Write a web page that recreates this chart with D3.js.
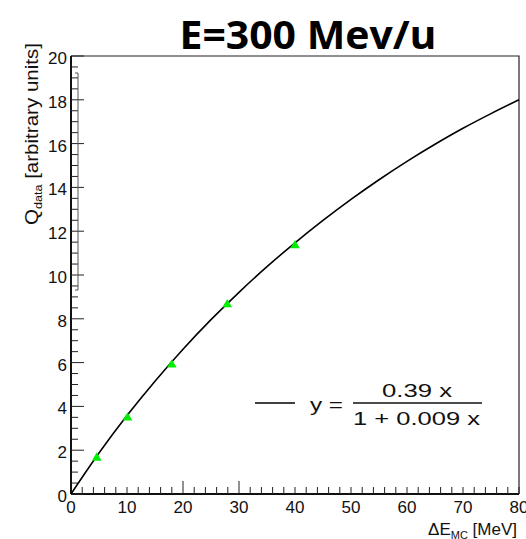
<!DOCTYPE html>
<html><head><meta charset="utf-8">
<script src="https://cdn.jsdelivr.net/npm/d3@7"></script>
<style>body{margin:0;background:#fff;overflow:hidden}</style>
</head><body><svg id="c" width="526" height="539"></svg>
<script>
// data
const pointsX = [4.6, 10.1, 18.0, 27.9, 40.0];
const pointsY = [1.65, 3.48, 5.9, 8.65, 11.35];
// fitted curve y = 0.39x/(1+0.009x), sampled as read
const curveX = [0, 5, 10, 15, 20, 25, 30, 35, 40, 45, 50, 55, 60, 65, 70, 75, 80];
const curveY = [0, 1.87, 3.58, 5.15, 6.61, 7.96, 9.21, 10.38, 11.47, 12.49, 13.45, 14.35, 15.19, 15.97, 16.7, 17.37, 18.0];
const xTickLabels = [0, 10, 20, 30, 40, 50, 60, 70, 80];
const yTickLabels = [0, 2, 4, 6, 8, 10, 12, 14, 16, 18, 20];
const longXTicks = [20, 30];

const svg = d3.select("#c");
const x = d3.scaleLinear().domain([0, 80]).range([71, 519]);
const y = d3.scaleLinear().domain([0, 20]).range([494, 56]);
const FONT = "'Liberation Sans', Arial, Helvetica, sans-serif";

// frame top/right
svg.append("path").attr("d", `M${x(0)},${y(20)}H${x(80)}V${y(0)}`)
  .attr("fill", "none").attr("stroke", "#222").attr("stroke-width", 1.2);

// x axis
const xMinor = d3.range(0, 80.001, 2);
const gx = svg.append("g");
gx.append("line").attr("x1", x(0)).attr("x2", x(80)).attr("y1", y(0)).attr("y2", y(0)).attr("stroke", "#111").attr("stroke-width", 2);
gx.selectAll("line.t").data(xMinor).join("line").attr("class", "t")
  .attr("x1", d => x(d)).attr("x2", d => x(d))
  .attr("y1", y(0)).attr("y2", d => y(0) - (longXTicks.includes(d) ? 13 : 7))
  .attr("stroke", "#222").attr("stroke-width", 1);
gx.selectAll("text").data(xTickLabels).join("text")
  .attr("x", d => x(d)).attr("y", 513).attr("text-anchor", "middle")
  .attr("font-family", FONT).attr("font-size", 17).attr("fill", "#111").text(d => d);

// y axis
const yMinor = d3.range(0, 20.001, 0.5);
const gy = svg.append("g");
gy.append("line").attr("x1", x(0)).attr("x2", x(0)).attr("y1", y(0)).attr("y2", y(20)).attr("stroke", "#111").attr("stroke-width", 2);
gy.selectAll("line.t").data(yMinor).join("line").attr("class", "t")
  .attr("x1", x(0)).attr("x2", d => x(0) + (d % 2 === 0 ? 13 : 7))
  .attr("y1", d => y(d)).attr("y2", d => y(d))
  .attr("stroke", "#222").attr("stroke-width", 1);
gy.selectAll("text").data(yTickLabels).join("text")
  .attr("x", 67).attr("y", d => y(d) + 8).attr("text-anchor", "end")
  .attr("font-family", FONT).attr("font-size", 17).attr("fill", "#111").text(d => d);

// stray bracket seen in the picture
svg.append("path").attr("d", `M75,73H78V290H75`).attr("fill", "none").attr("stroke", "#555").attr("stroke-width", 1);

// curve
const line = d3.line().x(d => x(d[0])).y(d => y(d[1])).curve(d3.curveCatmullRom);
svg.append("path").datum(curveX.map((v, i) => [v, curveY[i]]))
  .attr("d", line).attr("fill", "none").attr("stroke", "#000").attr("stroke-width", 1.6);

// points (green triangles)
const tri = d3.symbol().type(d3.symbolTriangle).size(40);
svg.selectAll("path.pt").data(pointsX.map((v, i) => [v, pointsY[i]])).join("path").attr("class", "pt")
  .attr("d", tri).attr("transform", d => `translate(${x(d[0])},${y(d[1])})`)
  .attr("fill", "#00ee00");

// title
svg.append("text").attr("x", 308).attr("y", 49).attr("text-anchor", "middle")
  .attr("font-family", "'Open Sans', sans-serif").attr("font-weight", "bold").attr("font-size", 40)
  .attr("textLength", 257).attr("lengthAdjust", "spacingAndGlyphs")
  .attr("fill", "#000").text("E=300 Mev/u");

// y title
const yt = svg.append("text").attr("transform", "translate(38,225) rotate(-90)")
  .attr("font-family", FONT).attr("font-size", 18).attr("fill", "#111")
  .attr("textLength", 182).attr("lengthAdjust", "spacingAndGlyphs");
yt.append("tspan").text("Q");
yt.append("tspan").attr("font-size", 11).attr("dy", 4).text("data");
yt.append("tspan").attr("dy", -4).text(" [arbitrary units]");

// x title
const xt = svg.append("text").attr("x", 517).attr("y", 535).attr("text-anchor", "end")
  .attr("font-family", FONT).attr("font-size", 17).attr("fill", "#111");
xt.append("tspan").text("ΔE");
xt.append("tspan").attr("font-size", 11).attr("dy", 4).text("MC");
xt.append("tspan").attr("dy", -4).text(" [MeV]");

// legend
svg.append("line").attr("x1", 255).attr("x2", 295).attr("y1", 403).attr("y2", 403).attr("stroke", "#000").attr("stroke-width", 1.6);
svg.append("text").attr("x", 310).attr("y", 411).attr("font-family", FONT).attr("font-size", 19)
  .attr("textLength", 33).attr("lengthAdjust", "spacingAndGlyphs").attr("fill", "#111").text("y =");
svg.append("text").attr("x", 417).attr("y", 397).attr("text-anchor", "middle").attr("font-family", FONT).attr("font-size", 18)
  .attr("textLength", 70).attr("lengthAdjust", "spacingAndGlyphs").attr("fill", "#111").text("0.39 x");
svg.append("line").attr("x1", 353).attr("x2", 482).attr("y1", 403).attr("y2", 403).attr("stroke", "#111").attr("stroke-width", 1.3);
svg.append("text").attr("x", 353).attr("y", 425).attr("font-family", FONT).attr("font-size", 18)
  .attr("textLength", 127).attr("lengthAdjust", "spacingAndGlyphs").attr("fill", "#111").text("1 + 0.009 x");
</script></body></html>
